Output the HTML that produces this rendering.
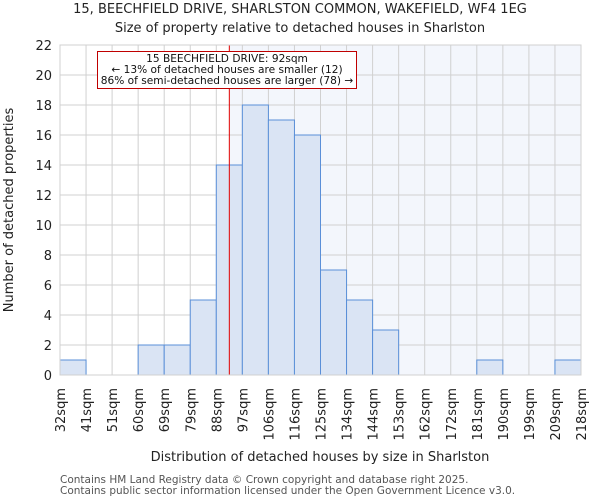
<!DOCTYPE html>
<html><head><meta charset="utf-8"><style>
body{margin:0;background:#fff;}
svg{display:block;font-family:"DejaVu Sans","Liberation Sans",sans-serif;}
</style></head><body>
<svg id="chart" width="600" height="500" viewBox="0 0 600 500" xmlns="http://www.w3.org/2000/svg">
<text x="300" y="13" text-anchor="middle" font-size="13" fill="#222">15, BEECHFIELD DRIVE, SHARLSTON COMMON, WAKEFIELD, WF4 1EG</text>
<text x="300" y="32" text-anchor="middle" font-size="13" fill="#222">Size of property relative to detached houses in Sharlston</text>
<g id="plot"></g>
<text x="320" y="461" text-anchor="middle" font-size="13" fill="#222">Distribution of detached houses by size in Sharlston</text>
<text transform="translate(13,210) rotate(-90)" text-anchor="middle" font-size="13" fill="#222">Number of detached properties</text>
<text x="60" y="483" font-size="10.5" fill="#555">Contains HM Land Registry data © Crown copyright and database right 2025.</text>
<text x="60" y="494" font-size="10.5" fill="#555">Contains public sector information licensed under the Open Government Licence v3.0.</text>
</svg>
<script>
const binLabels=["32sqm","41sqm","51sqm","60sqm","69sqm","79sqm","88sqm","97sqm","106sqm","116sqm","125sqm","134sqm","144sqm","153sqm","162sqm","172sqm","181sqm","190sqm","199sqm","209sqm","218sqm"];
const counts=[1,0,0,2,2,5,14,18,17,16,7,5,3,0,0,0,1,0,0,1];
const yTicks=[0,2,4,6,8,10,12,14,16,18,20,22];
const markerBinPos=6.5; // 92sqm within bin 88-97
const NS="http://www.w3.org/2000/svg";
const L=60,R=581,T=45,B=375,yMax=22;
const n=counts.length,bw=(R-L)/n;
const xs=i=>L+i*bw;
const ys=v=>B-(v/yMax)*(B-T);
const g=document.getElementById('plot');
function mk(t,a){const e=document.createElementNS(NS,t);for(const k in a)e.setAttribute(k,a[k]);g.appendChild(e);return e;}
const mx=xs(markerBinPos);
let e=mk('rect',{x:mx,y:T,width:R-mx,height:B-T,fill:'#f3f6fc'});


yTicks.forEach(v=>{
 let l=mk('line',{x1:L,x2:R,y1:ys(v),y2:ys(v),stroke:'#d0d0d0','stroke-width':1});
 
 
 let t=mk('text',{x:L-8,y:ys(v)+5,'text-anchor':'end','font-size':13,fill:'#222'});
 t.textContent=v;
 
 
});
binLabels.forEach((s,i)=>{
 let l=mk('line',{x1:xs(i),x2:xs(i),y1:T,y2:B,stroke:'#d0d0d0','stroke-width':1});
 
 
 let t=mk('text',{transform:`translate(${xs(i)+5},388) rotate(-90)`,'text-anchor':'end','font-size':13,fill:'#222'});
 t.textContent=s;
 
 
});
counts.forEach((c,i)=>{
 if(c<=0)return;
 let r=mk('rect',{x:xs(i),y:ys(c),width:bw,height:B-ys(c),fill:'#dae4f4',stroke:'#5a8fd8','stroke-width':1});
 
 
});
let ml=mk('line',{x1:mx,x2:mx,y1:T,y2:B,stroke:'#e00000','stroke-width':1});


let bx=mk('rect',{x:97.5,y:51.5,width:259,height:37,fill:'#fff',stroke:'#c00000','stroke-width':1});


["15 BEECHFIELD DRIVE: 92sqm","← 13% of detached houses are smaller (12)","86% of semi-detached houses are larger (78) →"].forEach((s,i)=>{
 let t=mk('text',{x:227,y:62+i*11,'text-anchor':'middle','font-size':10.6,fill:'#111'});
 t.textContent=s;
 
 
});
let ax=mk('rect',{x:L,y:T,width:R-L,height:B-T,fill:'none',stroke:'#d0d0d0','stroke-width':1});


</script>
</body></html>
